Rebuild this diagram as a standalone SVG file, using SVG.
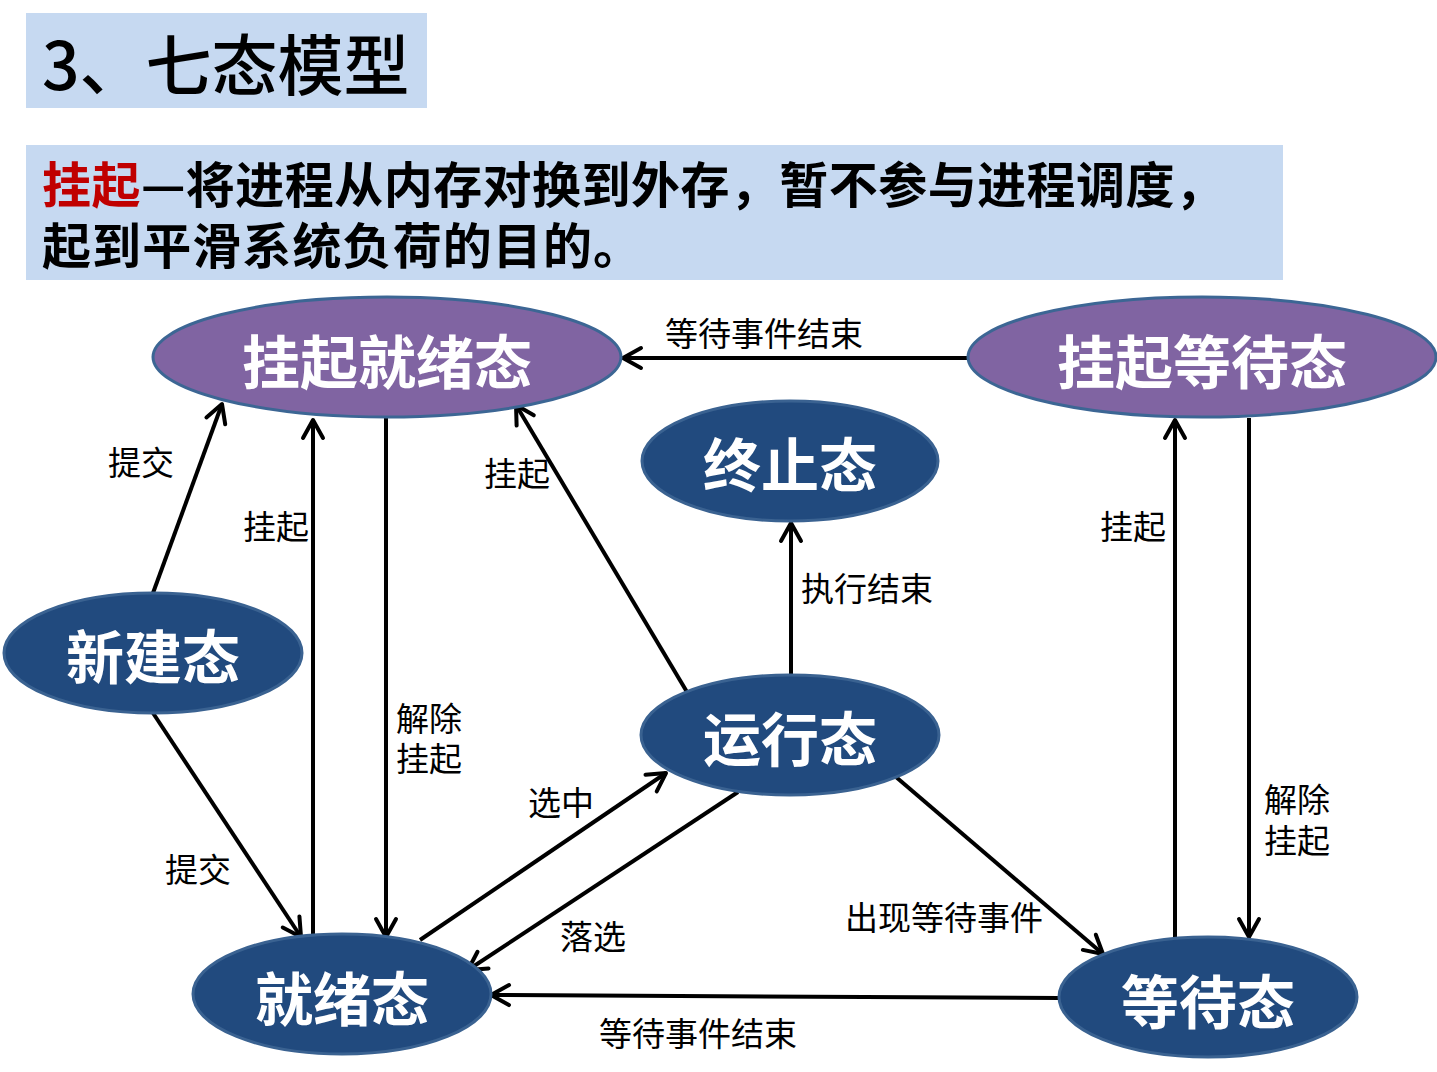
<svg xmlns="http://www.w3.org/2000/svg" width="1437" height="1072" viewBox="0 0 1437 1072">
<style>
.box{fill:#c6d9f1}
.title{font-family:"Noto Sans CJK SC","Liberation Sans",sans-serif;font-size:66px;font-weight:500;fill:#000}
.sub{font-family:"Noto Sans CJK SC","Liberation Sans",sans-serif;font-size:49px;font-weight:bold;fill:#000}
.red{fill:#c00000}
.susp{fill:#8064a2;stroke:#3c6694;stroke-width:3}
.st{fill:#214a7e;stroke:#3a6291;stroke-width:3}
.nt{font-family:"Noto Sans CJK SC","Liberation Sans",sans-serif;font-size:58px;font-weight:bold;fill:#fff;text-anchor:middle}
.lb{font-family:"Noto Sans CJK SC","Liberation Sans",sans-serif;font-size:33px;fill:#000}
.cn{fill:none;stroke:#000;stroke-width:4;marker-end:url(#ah)}
</style>
<defs>
<marker id="ah" markerUnits="userSpaceOnUse" markerWidth="30" markerHeight="30" viewBox="-25 -15 30 30" refX="0" refY="0" orient="auto" overflow="visible">
<path d="M-18,-10 L0,0 L-18,10" fill="none" stroke="#000" stroke-width="4" stroke-linecap="round" stroke-linejoin="round"/>
</marker>
</defs>
<rect width="1437" height="1072" fill="#fff"/>
<g id="title">
<rect class="box" x="26" y="13" width="401" height="95"/>
<text class="title" x="42" y="90">3、七态模型</text>
</g>
<g id="subtitle">
<rect class="box" x="26" y="145" width="1257" height="135"/>
<text class="sub" x="42" y="203" textLength="1182" lengthAdjust="spacing"><tspan class="red">挂起</tspan>—将进程从内存对换到外存，暂不参与进程调度，</text>
<text class="sub" x="42" y="264" textLength="600" lengthAdjust="spacing">起到平滑系统负荷的目的。</text>
</g>
<g id="connectors">
<line class="cn" x1="153" y1="593" x2="222" y2="404"/>
<line class="cn" x1="153" y1="713" x2="301" y2="937"/>
<line class="cn" x1="313" y1="937" x2="313" y2="420"/>
<line class="cn" x1="386" y1="418" x2="386" y2="937"/>
<line class="cn" x1="687" y1="692" x2="516" y2="405"/>
<line class="cn" x1="968" y1="358" x2="623" y2="358"/>
<line class="cn" x1="791" y1="675" x2="791" y2="523"/>
<line class="cn" x1="420" y1="940" x2="666" y2="773"/>
<line class="cn" x1="738" y1="792" x2="468" y2="970"/>
<line class="cn" x1="896" y1="777" x2="1103" y2="954"/>
<line class="cn" x1="1059" y1="998" x2="491" y2="995"/>
<line class="cn" x1="1175" y1="937" x2="1175" y2="420"/>
<line class="cn" x1="1249" y1="418" x2="1249" y2="937"/>
<text class="lb" x="665" y="346">等待事件结束</text>
<text class="lb" x="108" y="475">提交</text>
<text class="lb" x="243" y="539">挂起</text>
<text class="lb" x="484" y="486">挂起</text>
<text class="lb" x="801" y="601">执行结束</text>
<text class="lb" x="1100" y="539">挂起</text>
<text class="lb" x="396" y="731">解除</text>
<text class="lb" x="396" y="771">挂起</text>
<text class="lb" x="528" y="815">选中</text>
<text class="lb" x="165" y="882">提交</text>
<text class="lb" x="560" y="949">落选</text>
<text class="lb" x="845" y="930">出现等待事件</text>
<text class="lb" x="599" y="1046">等待事件结束</text>
<text class="lb" x="1264" y="812">解除</text>
<text class="lb" x="1264" y="853">挂起</text>
</g>
<g id="node-suspend-ready">
<ellipse class="susp" cx="387" cy="357" rx="234" ry="60"/>
<text class="nt" x="387" y="384">挂起就绪态</text>
</g>
<g id="node-suspend-wait">
<ellipse class="susp" cx="1202" cy="357" rx="234" ry="60"/>
<text class="nt" x="1202" y="384">挂起等待态</text>
</g>
<g id="node-exit">
<ellipse class="st" cx="790" cy="461" rx="148" ry="60"/>
<text class="nt" x="790" y="487">终止态</text>
</g>
<g id="node-new">
<ellipse class="st" cx="153" cy="653" rx="149" ry="60"/>
<text class="nt" x="153" y="679">新建态</text>
</g>
<g id="node-running">
<ellipse class="st" cx="790" cy="735" rx="149" ry="60"/>
<text class="nt" x="790" y="761">运行态</text>
</g>
<g id="node-ready">
<ellipse class="st" cx="342" cy="994" rx="149" ry="60"/>
<text class="nt" x="342" y="1021">就绪态</text>
</g>
<g id="node-wait">
<ellipse class="st" cx="1208" cy="997" rx="149" ry="60"/>
<text class="nt" x="1208" y="1024">等待态</text>
</g>
</svg>
